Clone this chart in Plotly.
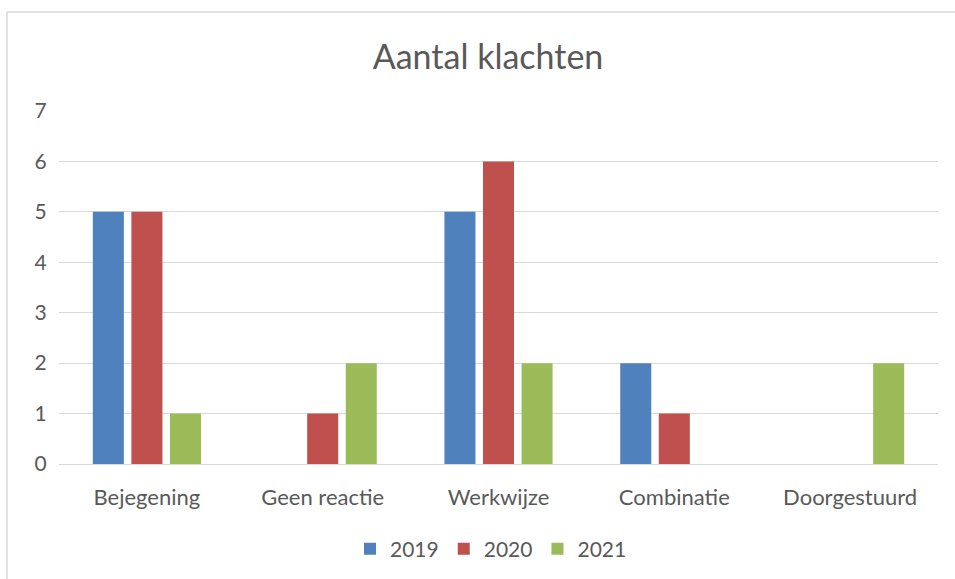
import plotly.graph_objects as go

categories = ["Bejegening", "Geen reactie", "Werkwijze", "Combinatie", "Doorgestuurd"]
values_2019 = [5, 0, 5, 2, 0]
values_2020 = [5, 1, 6, 1, 0]
values_2021 = [1, 2, 2, 0, 2]
series_names = ["2019", "2020", "2021"]
colors = ["#4F81BD", "#C0504D", "#9BBB59"]
y_ticks = [0, 1, 2, 3, 4, 5, 6, 7]

W, H = 955, 579
ml, mr, mt, mb = 59, 17, 111, 115
pw, ph = W - ml - mr, H - mt - mb

fig = go.Figure()
for name, vals, col in zip(series_names, [values_2019, values_2020, values_2021], colors):
    fig.add_trace(go.Bar(name=name, x=categories, y=vals, marker=dict(color=col, line=dict(width=0))))

font = "Lato, 'Open Sans', sans-serif"
fig.update_layout(
    width=W, height=H,
    margin=dict(l=ml, r=mr, t=mt, b=mb, pad=0, autoexpand=False),
    paper_bgcolor="white", plot_bgcolor="white",
    barmode="group", bargap=0.342, bargroupgap=0.195,
    font=dict(family=font, color="#595959", size=22),
    title=dict(text="Aantal klachten", x=488 / W, xanchor="center",
               y=1 - 57 / H, yanchor="middle",
               font=dict(size=34, color="#595959", family=font)),
    xaxis=dict(showgrid=False, showline=False, tickfont=dict(size=22), automargin=False,
               ticks="outside", ticklen=14, tickcolor="rgba(0,0,0,0)"),
    yaxis=dict(range=[0, 7], tickvals=y_ticks, showgrid=True, gridcolor="#D9D9D9",
               gridwidth=1, zeroline=True, zerolinecolor="#D9D9D9", zerolinewidth=1,
               showline=False, ticks="outside", ticklen=7, tickcolor="rgba(0,0,0,0)",
               tickfont=dict(size=21), automargin=False),
    legend=dict(orientation="h", x=(491 - ml) / pw, xanchor="center",
                yref="container", y=1 - 549 / H, yanchor="middle",
                font=dict(size=21), itemwidth=30, traceorder="normal"),
    showlegend=True,
)

# chart border (only top and left edges fall inside the picture)
bx0 = (7 - ml) / pw
bx1 = (W + 40 - ml) / pw
by0 = -(H + 40 - mt - ph) / ph
by1 = 1 + (mt - 12) / ph
border = dict(color="#D9D9D9", width=1.5)
fig.add_shape(type="line", xref="paper", yref="paper", x0=bx0, x1=bx1, y0=by1, y1=by1,
              line=border, layer="below")
fig.add_shape(type="line", xref="paper", yref="paper", x0=bx0, x1=bx0, y0=by0, y1=by1,
              line=border, layer="below")

fig.write_html("out.html", config={"displayModeBar": False},
               post_script="document.body.style.margin='0';")
